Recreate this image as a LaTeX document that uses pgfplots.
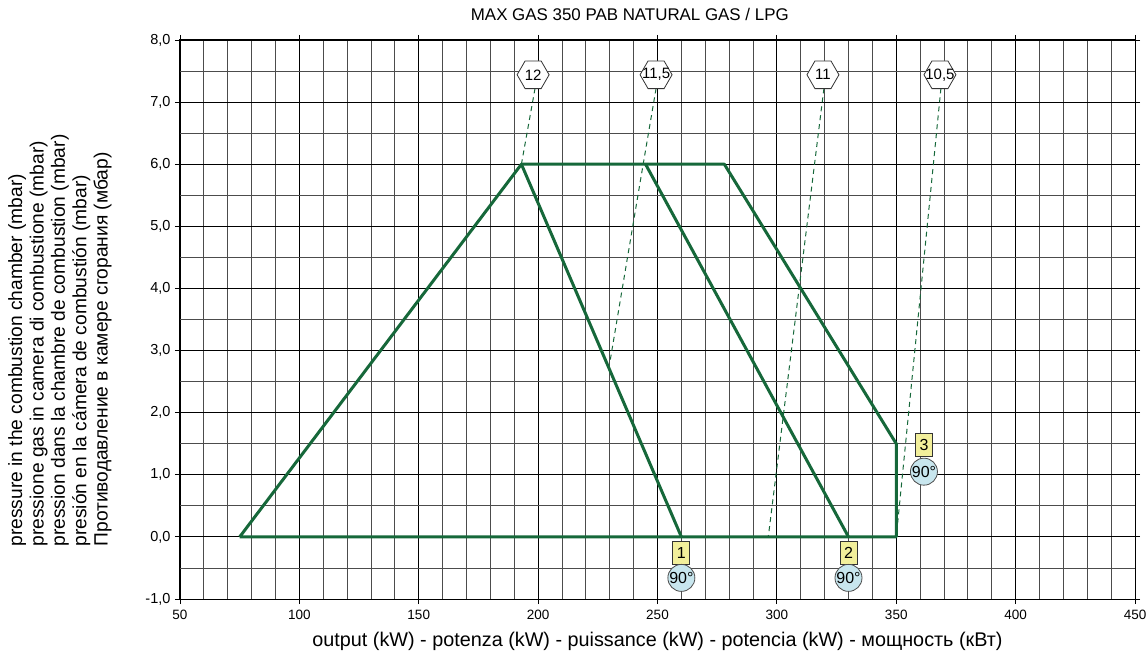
\documentclass[border=0pt]{standalone}
\usepackage{fontspec}
\setmainfont{Liberation Sans}
\usepackage{pgfplots}
\pgfplotsset{compat=1.18}
\usetikzlibrary{shapes.geometric}
\definecolor{burner}{RGB}{22,104,58}
\definecolor{boxy}{RGB}{242,239,155}
\definecolor{circb}{RGB}{200,230,238}
\begin{document}
\begin{tikzpicture}
\begin{axis}[
  name=ax,
  scale only axis,
  width=955pt, height=559pt,
  xmin=50, xmax=450, ymin=-1, ymax=8,
  xtick={50,100,...,450},
  ytick={-1,0,...,8},
  minor xtick={60,70,...,440},
  minor ytick={-0.5,0.5,...,7.5},
  grid=both,
  major grid style={black, line width=0.9pt},
  minor grid style={black!70, line width=0.9pt},
  axis line style={black, line width=1pt},
  tick align=outside,
  major tick length=5pt,
  minor tick length=0pt,
  tick style={black, line width=0.8pt},
  /pgf/number format/assume math mode=true,
  xticklabel style={font=\fontsize{13.5}{15}\selectfont, /pgf/number format/1000 sep={}, yshift=-3pt},
  yticklabel style={font=\fontsize{14.5}{16}\selectfont, /pgf/number format/use comma, /pgf/number format/fixed, /pgf/number format/fixed zerofill, /pgf/number format/precision=1, xshift=-1pt},
  title={MAX GAS 350 PAB NATURAL GAS / LPG},
  title style={at={(axis description cs:0.471,1)}, anchor=center, yshift=20pt, font=\fontsize{16.9}{19}\selectfont},
  xlabel={output (kW) - potenza (kW) - puissance (kW) - potencia (kW) - мощность (кВт)},
  xlabel style={at={(axis description cs:0.5,0)}, anchor=center, yshift=-42pt, font=\fontsize{19.8}{22}\selectfont},
  ylabel={pressure in the combustion chamber (mbar)\\pressione gas in camera di combustione (mbar)\\pression dans la chambre de combustion (mbar)\\presión en la cámera de combustión (mbar)\\Противодавление в камере сгорания (мбар)},
  ylabel style={at={(axis description cs:-0.1257,0.0877)}, anchor=west, align=left, font=\fontsize{19.2}{21.4}\selectfont},
]
% working field
\addplot[burner, line width=3pt, line join=round] coordinates {(75,0) (193,6) (278,6) (350,1.5) (350,0) (75,0)};
\addplot[burner, line width=3pt] coordinates {(193,6) (260,0)};
\addplot[burner, line width=3pt] coordinates {(245,6) (330,0)};
% air damper lines
\addplot[burner, line width=1pt, dash pattern=on 5pt off 4pt] coordinates {(198.7,7.22) (193,6)};
\addplot[burner, line width=1pt, dash pattern=on 5pt off 4pt] coordinates {(249.4,7.22) (244,6) (230,2.8)};
\addplot[burner, line width=1pt, dash pattern=on 5pt off 4pt] coordinates {(319.7,7.22) (296.4,0)};
\addplot[burner, line width=1pt, dash pattern=on 5pt off 4pt] coordinates {(368.7,7.22) (350.4,0.15)};
% hexagons
\foreach \xx/\tt in {197.9/12, 249.4/{11,5}, 319.3/11, 368.3/{10,5}} {
  \edef\temp{\noexpand\node[regular polygon, regular polygon sides=6, draw=black!80, fill=white, minimum size=32pt, inner sep=0pt, line width=0.8pt] at (axis cs:\xx,7.44) {};
  \noexpand\node[font=\noexpand\fontsize{15}{17}\noexpand\selectfont, inner sep=0pt] at (axis cs:\xx,7.44) {\tt};}
  \temp
}
% position markers
\foreach \xx/\yb/\yc/\nn in {260/-0.26/-0.66/1, 330/-0.26/-0.66/2, 361.6/1.48/1.05/3} {
  \edef\temp{\noexpand\node[draw=black!80, fill=boxy, minimum width=17pt, minimum height=23pt, inner sep=0pt, line width=0.8pt, font=\noexpand\fontsize{16}{18}\noexpand\selectfont] at (axis cs:\xx,\yb) {\nn};
  \noexpand\node[circle, draw=black!70, fill=circb, minimum size=27pt, inner sep=0pt, line width=0.8pt, font=\noexpand\fontsize{16}{18}\noexpand\selectfont] at (axis cs:\xx,\yc) {90°};}
  \temp
}
\end{axis}
\pgfresetboundingbox
\path[use as bounding box] (ax.south west) ++(-180pt,-63pt) rectangle ++(1147pt,662pt);
\end{tikzpicture}
\end{document}
